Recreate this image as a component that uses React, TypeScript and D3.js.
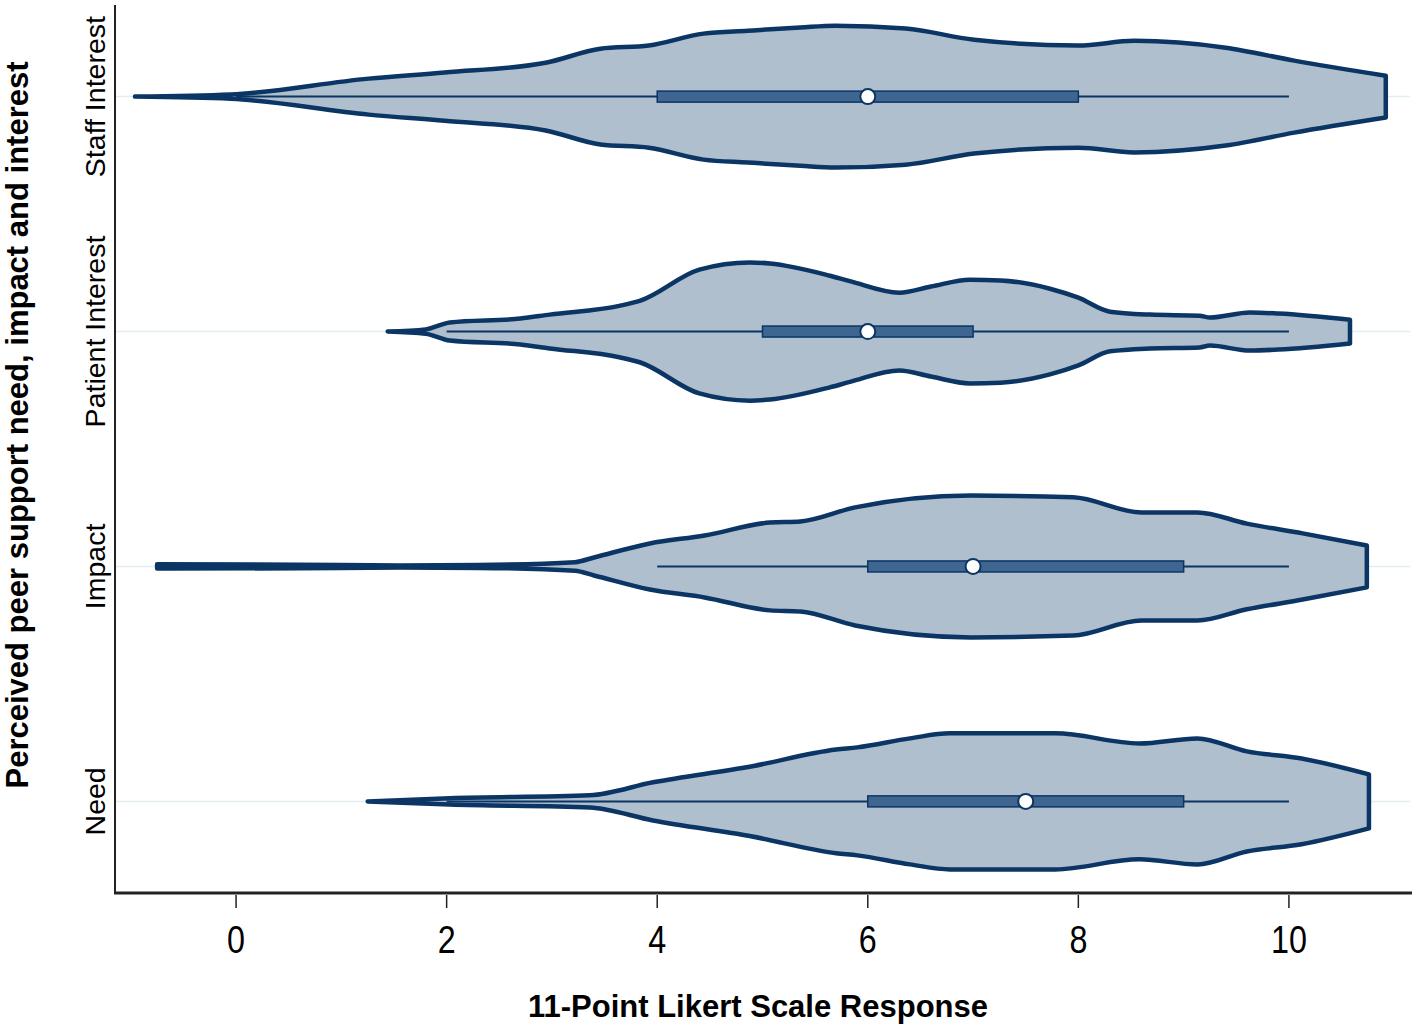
import React from 'react';
import * as d3 from 'd3';

// groups, top to bottom
const groups = ['Staff Interest', 'Patient Interest', 'Impact', 'Need'];

// kernel density outline (x = response, d = density)
const staffX = [-0.96, -0.05, 1.26, 1.98, 2.94, 3.46, 3.92, 4.44, 4.86, 5.36, 5.69, 6.36, 7.01, 8.0, 8.53, 9.4, 10.05, 10.92];
const staffD = [0, 0.006, 0.05, 0.067, 0.094, 0.133, 0.142, 0.175, 0.183, 0.192, 0.197, 0.189, 0.158, 0.142, 0.155, 0.136, 0.1, 0.058];

const patientX = [1.44, 1.8, 2.03, 2.7, 2.98, 3.65, 3.84, 4.4, 4.88, 5.07, 5.64, 5.83, 6.3, 6.6, 6.97, 7.26, 7.73, 8.0, 8.3, 8.68, 9.15, 9.25, 9.63, 9.9, 10.58];
const patientD = [0, 0.006, 0.025, 0.036, 0.047, 0.072, 0.086, 0.172, 0.192, 0.189, 0.155, 0.14, 0.108, 0.125, 0.144, 0.142, 0.119, 0.094, 0.055, 0.047, 0.044, 0.039, 0.053, 0.05, 0.033];

const impactX = [-0.75, 0.6, 1.56, 2.3, 3.22, 3.4, 3.93, 4.45, 5.07, 5.36, 5.88, 6.98, 7.95, 8.6, 9.13, 9.6, 10.13, 10.74];
const impactD = [0.006, 0.005, 0.003, 0.004, 0.012, 0.025, 0.064, 0.086, 0.122, 0.125, 0.164, 0.197, 0.192, 0.15, 0.15, 0.119, 0.092, 0.058];

const needX = [1.25, 2.03, 3.36, 3.96, 4.89, 5.7, 5.9, 6.4, 6.78, 7.78, 8.58, 9.13, 9.6, 10.12, 10.76];
const needD = [0, 0.009, 0.017, 0.053, 0.097, 0.144, 0.15, 0.175, 0.189, 0.189, 0.161, 0.175, 0.139, 0.119, 0.075];

// box plot summaries: [lower whisker, q1, median, q3, upper whisker]
const staffBox = [0, 4, 6, 8, 10];
const patientBox = [2, 5, 6, 7, 10];
const impactBox = [4, 6, 7, 9, 10];
const needBox = [2, 6, 7.5, 9, 10];

const xTicks = [0, 2, 4, 6, 8, 10];

const xs = [staffX, patientX, impactX, needX];
const ds = [staffD, patientD, impactD, needD];
const boxes = [staffBox, patientBox, impactBox, needBox];

const W = 1416, H = 1029;
const navy = '#0b3564';
const fillCol = '#b0bfcd';
const font = '"Liberation Sans", Arial, sans-serif';

export default function App() {
  const x = d3.scaleLinear().domain([-1.15, 11.15]).range([115, 1410]);
  const y = d3.scalePoint<string>().domain(groups).range([5, 893]).padding(0.39);
  const w = d3.scaleLinear().domain([0, 0.2]).range([0, 72]);

  return (
    <svg width={W} height={H} style={{ position: 'absolute', left: 0, top: 0, background: '#fff' }}>
      {/* faint reference lines */}
      {groups.map((g) => (
        <line key={'g' + g} x1={x(-1.15)} x2={x(11.15)} y1={y(g)} y2={y(g)} stroke="#e2eef1" strokeWidth={1.5} />
      ))}

      {groups.map((g, i) => {
        const cy = y(g) as number;
        const pts = xs[i].map((v, j) => ({ v, d: ds[i][j] }));
        const area = d3.area<{ v: number; d: number }>()
          .x((p) => x(p.v))
          .y0((p) => cy - w(p.d))
          .y1((p) => cy + w(p.d))
          .curve(d3.curveMonotoneX);
        const b = boxes[i];
        return (
          <g key={g}>
            <path d={area(pts) + 'Z'} fill={fillCol} stroke={navy} strokeWidth={4.5} strokeLinejoin="round" />
            <line x1={x(b[0])} x2={x(b[4])} y1={cy} y2={cy} stroke={navy} strokeWidth={2} />
            <rect x={x(b[1])} width={x(b[3]) - x(b[1])} y={cy - 5.5} height={11} fill="#3f6690" stroke={navy} strokeWidth={1.5} />
            <circle cx={x(b[2])} cy={cy} r={7.5} fill="#fff" stroke={navy} strokeWidth={2} />
            <text transform={`translate(105,${cy}) rotate(-90)`} textAnchor="middle" fontFamily={font} fontSize={28.5} fill="#000">{g}</text>
          </g>
        );
      })}

      {/* axes */}
      <line x1={115} x2={115} y1={5} y2={893} stroke="#222" strokeWidth={2} />
      <line x1={114} x2={1412} y1={893} y2={893} stroke="#222" strokeWidth={3} />
      {xTicks.map((t) => (
        <g key={t}>
          <line x1={x(t)} x2={x(t)} y1={895} y2={908} stroke="#222" strokeWidth={1.5} />
          <text transform={`translate(${x(t)},953) scale(0.85,1)`} textAnchor="middle" fontFamily={font} fontSize={38} fill="#000">{t}</text>
        </g>
      ))}

      <text x={758} y={1017} textAnchor="middle" fontFamily={font} fontSize={31} fontWeight="bold" fill="#000">
        11-Point Likert Scale Response
      </text>
      <text transform="translate(28,425) rotate(-90)" textAnchor="middle" fontFamily={font} fontSize={31} fontWeight="bold" fill="#000">
        Perceived peer support need, impact and interest
      </text>
    </svg>
  );
}
